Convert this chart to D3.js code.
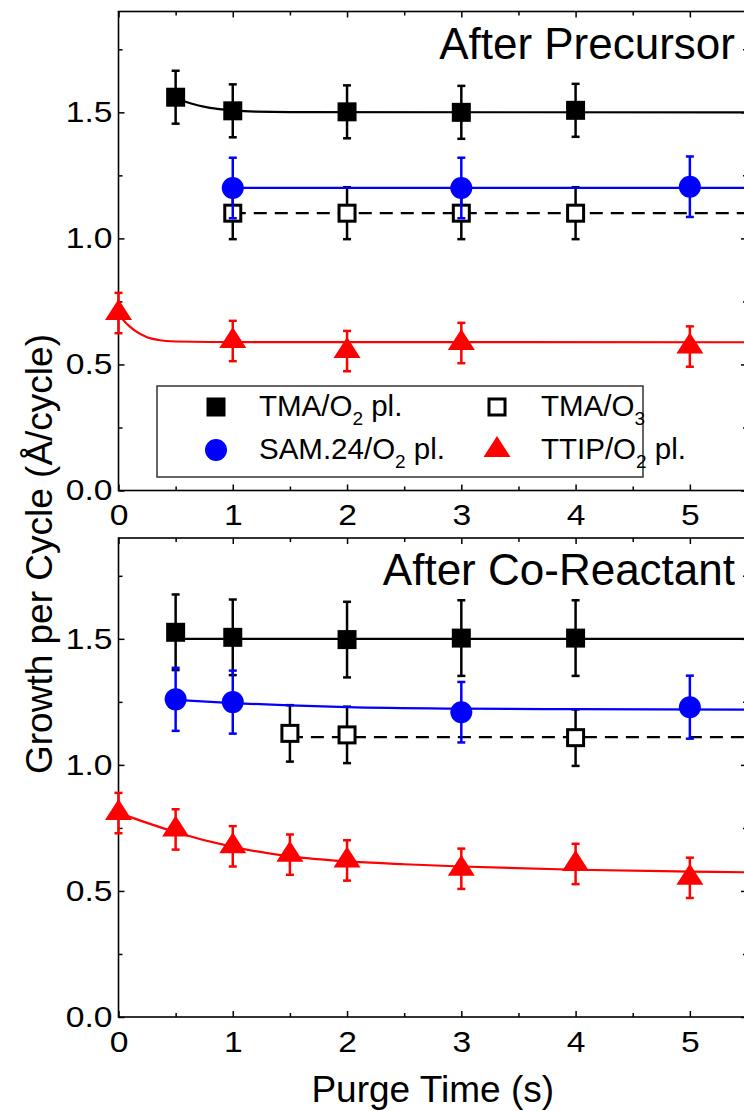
<!DOCTYPE html>
<html>
<head>
<meta charset="utf-8">
<script src="https://cdn.jsdelivr.net/npm/d3@7"></script>
<style>
  html, body { margin: 0; padding: 0; background: #fff; }
  svg { display: block; font-family: "Liberation Sans", Arial, Helvetica, sans-serif; }
</style>
</head>
<body>
<svg id="chart" width="744" height="1111"></svg>
<script>
// ---------------- data ----------------
const panelTitles = ["After Precursor", "After Co-Reactant"];
const xLabel = "Purge Time (s)";
const yLabel = "Growth per Cycle (Å/cycle)";
const xMajorTicks = [0, 1, 2, 3, 4, 5];
const xMinorTicks = [0.5, 1.5, 2.5, 3.5, 4.5];
const yMajorTicks = [0, 0.5, 1.0, 1.5];
const yMinorTicks = [0.25, 0.75, 1.25, 1.75];

// Legend labels: main text, subscript, trailing text
const legendLabels = [
  ["TMA/O", "2", " pl."],
  ["SAM.24/O", "2", " pl."],
  ["TMA/O", "3", ""],
  ["TTIP/O", "2", " pl."]
];

// Panel 1: purge after precursor
const preTmaO2Time = [0.5, 1, 2, 3, 4];
const preTmaO2Gpc  = [1.56, 1.506, 1.502, 1.500, 1.508];
const preTmaO2Err  = [0.105, 0.105, 0.105, 0.105, 0.105];
const preTmaO2FitT = [0.5, 0.6, 0.7, 0.8, 1.0, 1.2, 1.5, 5.5];
const preTmaO2FitG = [1.56, 1.540, 1.527, 1.518, 1.508, 1.503, 1.501, 1.500];

const preTmaO3Time = [1, 2, 3, 4];
const preTmaO3Gpc  = [1.100, 1.100, 1.100, 1.100];
const preTmaO3Err  = [0.103, 0.103, 0.103, 0.103];
const preTmaO3FitT = [1, 5.5];
const preTmaO3FitG = [1.100, 1.100];

const preSamTime = [1, 3, 5];
const preSamGpc  = [1.200, 1.200, 1.205];
const preSamErr  = [0.12, 0.12, 0.12];
const preSamFitT = [1, 5.5];
const preSamFitG = [1.200, 1.200];

const preTtipTime = [0, 1, 2, 3, 5];
const preTtipGpc  = [0.704, 0.593, 0.553, 0.585, 0.571];
const preTtipErr  = [0.08, 0.08, 0.08, 0.08, 0.08];
const preTtipFitT = [0, 0.05, 0.1, 0.15, 0.25, 0.35, 0.5, 0.8, 5.5];
const preTtipFitG = [0.704, 0.672, 0.650, 0.632, 0.608, 0.597, 0.591, 0.589, 0.588];

// Panel 2: purge after co-reactant
const postTmaO2Time = [0.5, 1, 2, 3, 4];
const postTmaO2Gpc  = [1.526, 1.506, 1.497, 1.503, 1.503];
const postTmaO2Err  = [0.15, 0.15, 0.15, 0.15, 0.15];
const postTmaO2FitT = [0.5, 5.5];
const postTmaO2FitG = [1.500, 1.500];

const postTmaO3Time = [1.5, 2, 4];
const postTmaO3Gpc  = [1.125, 1.119, 1.108];
const postTmaO3Err  = [0.112, 0.112, 0.112];
const postTmaO3FitT = [1.5, 5.5];
const postTmaO3FitG = [1.110, 1.110];

const postSamTime = [0.5, 1, 3, 5];
const postSamGpc  = [1.260, 1.249, 1.209, 1.229];
const postSamErr  = [0.125, 0.125, 0.12, 0.125];
const postSamFitT = [0.5, 1, 1.5, 2, 3, 4, 5.5];
const postSamFitG = [1.258, 1.245, 1.236, 1.229, 1.223, 1.221, 1.219];

const postTtipTime = [0, 0.5, 1, 1.5, 2, 3, 4, 5];
const postTtipGpc  = [0.809, 0.744, 0.677, 0.644, 0.621, 0.588, 0.607, 0.552];
const postTtipErr  = [0.08, 0.08, 0.08, 0.08, 0.08, 0.08, 0.08, 0.08];
const postTtipFitT = [0, 0.25, 0.5, 1, 1.5, 2, 2.5, 3, 4, 5, 5.5];
const postTtipFitG = [0.810, 0.770, 0.733, 0.675, 0.637, 0.617, 0.606, 0.597, 0.584, 0.577, 0.574];

// ---------------- styling / layout ----------------
const FONT_TICK = 29, TICK_STRETCH = 1.16;
const FONT_TITLE = 44, FONT_AXIS = 37, FONT_LEGEND = 29.5, FONT_SUB = 19;
const BLACK = "#000000", BLUE = "#0000ff", RED = "#ff0000";
const plotLeft = 118.5, plotRight = 747;
const panels = [
  { top: 11.5, bottom: 490.5, title: panelTitles[0], series: [
      { t: preTmaO2Time, g: preTmaO2Gpc, e: preTmaO2Err, ft: preTmaO2FitT, fg: preTmaO2FitG, color: BLACK, marker: "square" },
      { t: preTmaO3Time, g: preTmaO3Gpc, e: preTmaO3Err, ft: preTmaO3FitT, fg: preTmaO3FitG, color: BLACK, marker: "open", dashed: true },
      { t: preSamTime,   g: preSamGpc,   e: preSamErr,   ft: preSamFitT,   fg: preSamFitG,   color: BLUE,  marker: "circle" },
      { t: preTtipTime,  g: preTtipGpc,  e: preTtipErr,  ft: preTtipFitT,  fg: preTtipFitG,  color: RED,   marker: "triangle" }
    ], legend: true },
  { top: 538, bottom: 1017, title: panelTitles[1], series: [
      { t: postTmaO2Time, g: postTmaO2Gpc, e: postTmaO2Err, ft: postTmaO2FitT, fg: postTmaO2FitG, color: BLACK, marker: "square" },
      { t: postTmaO3Time, g: postTmaO3Gpc, e: postTmaO3Err, ft: postTmaO3FitT, fg: postTmaO3FitG, color: BLACK, marker: "open", dashed: true },
      { t: postSamTime,   g: postSamGpc,   e: postSamErr,   ft: postSamFitT,   fg: postSamFitG,   color: BLUE,  marker: "circle" },
      { t: postTtipTime,  g: postTtipGpc,  e: postTtipErr,  ft: postTtipFitT,  fg: postTtipFitG,  color: RED,   marker: "triangle" }
    ], legend: false }
];

const svg = d3.select("#chart");
const x = d3.scaleLinear().domain([0, 5.5]).range([plotLeft, plotRight]);

// marker painter
function drawMarker(sel, type, color) {
  if (type === "square") {
    sel.append("rect").attr("x", -9.5).attr("y", -9.5).attr("width", 19).attr("height", 19).attr("fill", color);
  } else if (type === "open") {
    sel.append("rect").attr("x", -8).attr("y", -8).attr("width", 16).attr("height", 16)
      .attr("fill", "#fff").attr("stroke", color).attr("stroke-width", 3);
  } else if (type === "circle") {
    sel.append("circle").attr("r", 11).attr("fill", color);
  } else if (type === "triangle") {
    // centroid-centred triangle, 27 wide x 21 tall
    sel.append("path").attr("d", "M0,-14L13.5,7L-13.5,7Z").attr("fill", color);
  }
}

// widen tick label glyphs slightly around their anchor point
function stretchLabels(a) {
  a.selectAll(".tick text").each(function () {
    const t = d3.select(this);
    const tx = +t.attr("x") || 0, ty = +t.attr("y") || 0;
    t.attr("transform", `translate(${tx},${ty}) scale(${TICK_STRETCH},1) translate(${-tx},${-ty})`);
  });
}

panels.forEach(p => {
  const y = d3.scaleLinear().domain([0, 1.9]).range([p.bottom, p.top]);
  const g = svg.append("g");

  // ---- axes ----
  const axisStyle = a => {
    a.select(".domain").remove();
    a.selectAll("line").attr("stroke", BLACK).attr("stroke-width", 1.5);
    a.selectAll("text").attr("font-family", "Liberation Sans, Arial, sans-serif").attr("fill", BLACK);
  };
  g.append("g").attr("transform", `translate(${plotLeft},0)`)
    .call(d3.axisLeft(y).tickValues(yMajorTicks).tickFormat(d3.format(".1f"))
      .tickSizeInner(-6).tickSizeOuter(0).tickPadding(6))
    .call(axisStyle).call(stretchLabels).attr("font-size", FONT_TICK);
  g.append("g").attr("transform", `translate(${plotLeft},0)`)
    .call(d3.axisLeft(y).tickValues(yMinorTicks).tickFormat("").tickSizeInner(-4).tickSizeOuter(0))
    .call(axisStyle);
  g.append("g").attr("transform", `translate(${plotRight},0)`)
    .call(d3.axisRight(y).tickValues(yMajorTicks).tickFormat("").tickSizeInner(-6).tickSizeOuter(0))
    .call(axisStyle);
  g.append("g").attr("transform", `translate(${plotRight},0)`)
    .call(d3.axisRight(y).tickValues(yMinorTicks).tickFormat("").tickSizeInner(-4).tickSizeOuter(0))
    .call(axisStyle);
  g.append("g").attr("transform", `translate(0,${p.bottom})`)
    .call(d3.axisBottom(x).tickValues(xMajorTicks).tickFormat(d3.format("d"))
      .tickSizeInner(-6).tickSizeOuter(0).tickPadding(14))
    .call(axisStyle).call(stretchLabels).attr("font-size", FONT_TICK);
  g.append("g").attr("transform", `translate(0,${p.bottom})`)
    .call(d3.axisBottom(x).tickValues(xMinorTicks).tickFormat("").tickSizeInner(-4).tickSizeOuter(0))
    .call(axisStyle);
  g.append("g").attr("transform", `translate(0,${p.top})`)
    .call(d3.axisTop(x).tickValues(xMajorTicks).tickFormat("").tickSizeInner(-6).tickSizeOuter(0))
    .call(axisStyle);
  g.append("g").attr("transform", `translate(0,${p.top})`)
    .call(d3.axisTop(x).tickValues(xMinorTicks).tickFormat("").tickSizeInner(-4).tickSizeOuter(0))
    .call(axisStyle);

  // frame
  g.append("rect").attr("x", plotLeft).attr("y", p.top)
    .attr("width", plotRight - plotLeft).attr("height", p.bottom - p.top)
    .attr("fill", "none").attr("stroke", BLACK).attr("stroke-width", 1.6);

  // panel title
  g.append("text").attr("x", 735).attr("y", p.top + 47)
    .attr("text-anchor", "end").attr("font-size", FONT_TITLE).attr("fill", BLACK)
    .text(p.title);

  // ---- legend (first panel only) ----
  if (p.legend) {
    const lg = g.append("g");
    lg.append("rect").attr("x", 157).attr("y", 386).attr("width", 486).attr("height", 91)
      .attr("fill", "#fff").attr("stroke", "#333").attr("stroke-width", 1.5);
    const legendItems = [
      { label: legendLabels[0], marker: "square",   color: BLACK, mx: 216, tx: 259, cy: 407 },
      { label: legendLabels[1], marker: "circle",   color: BLUE,  mx: 216, tx: 259, cy: 450 },
      { label: legendLabels[2], marker: "open",     color: BLACK, mx: 497, tx: 541, cy: 407 },
      { label: legendLabels[3], marker: "triangle", color: RED,   mx: 497, tx: 541, cy: 450 }
    ];
    legendItems.forEach(it => {
      const m = lg.append("g").attr("transform", `translate(${it.mx},${it.cy})`);
      drawMarker(m, it.marker, it.color);
      const t = lg.append("text").attr("x", it.tx).attr("y", it.cy + 9)
        .attr("font-size", FONT_LEGEND).attr("fill", BLACK);
      t.append("tspan").text(it.label[0]);
      t.append("tspan").attr("font-size", FONT_SUB).attr("dy", 9).text(it.label[1]);
      if (it.label[2]) t.append("tspan").attr("dy", -9).text(it.label[2]);
    });
  }

  // ---- data series ----
  const fitLine = d3.line().x(d => x(d[0])).y(d => y(d[1])).curve(d3.curveMonotoneX);
  p.series.forEach(s => {
    const sg = g.append("g");
    const fitPts = s.ft.map((t, i) => [t, s.fg[i]]);
    sg.append("path").datum(fitPts).attr("d", fitLine)
      .attr("fill", "none").attr("stroke", s.color).attr("stroke-width", 2.2)
      .attr("stroke-dasharray", s.dashed ? "13,8" : null);

    const pts = s.t.map((t, i) => ({ t, g: s.g[i], e: s.e[i] }));
    const eb = sg.append("g").attr("stroke", s.color).attr("stroke-width", 2.5);
    pts.forEach(d => {
      const cx = x(d.t), yt = y(d.g + d.e), yb = y(d.g - d.e);
      eb.append("line").attr("x1", cx).attr("x2", cx).attr("y1", yt).attr("y2", yb);
      eb.append("line").attr("x1", cx - 4).attr("x2", cx + 4).attr("y1", yt).attr("y2", yt);
      eb.append("line").attr("x1", cx - 4).attr("x2", cx + 4).attr("y1", yb).attr("y2", yb);
    });
    pts.forEach(d => {
      const m = sg.append("g").attr("transform", `translate(${x(d.t)},${y(d.g)})`);
      drawMarker(m, s.marker, s.color);
    });
  });
});

// axis titles
svg.append("text").attr("x", (plotLeft + plotRight) / 2).attr("y", 1102)
  .attr("text-anchor", "middle").attr("font-size", FONT_AXIS).attr("fill", BLACK)
  .text(xLabel);
svg.append("text").attr("transform", "translate(52,554) rotate(-90)")
  .attr("text-anchor", "middle").attr("font-size", FONT_AXIS).attr("fill", BLACK)
  .text(yLabel);
</script>
</body>
</html>
